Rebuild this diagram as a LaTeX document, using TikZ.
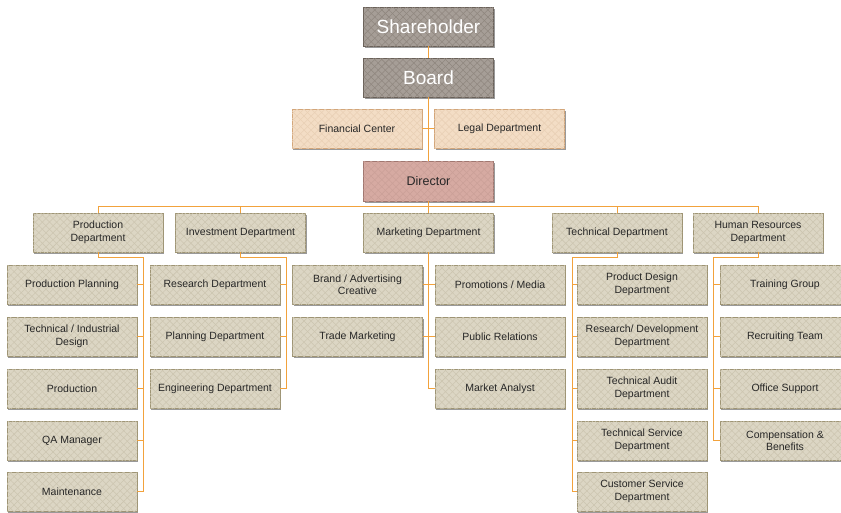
\documentclass[tikz,border=0pt]{standalone}
\usepackage{fontspec}
\setmainfont{Liberation Sans}
\usetikzlibrary{shadows,patterns.meta}

\definecolor{wire}{HTML}{F2A23C}
\definecolor{txt}{HTML}{262626}
\definecolor{deptfill}{HTML}{DCD6C4}
\definecolor{depthatch}{HTML}{CCC5B0}
\definecolor{deptline}{HTML}{9E9474}
\definecolor{topfill}{HTML}{A69E97}
\definecolor{tophatch}{HTML}{90877F}
\definecolor{topline}{HTML}{6A6159}
\definecolor{staffill}{HTML}{F3DDC5}
\definecolor{stafhatch}{HTML}{E9D0B5}
\definecolor{stafline}{HTML}{D3A67A}
\definecolor{dirfill}{HTML}{D6AAA2}
\definecolor{dirhatch}{HTML}{CBA098}
\definecolor{dirline}{HTML}{A07770}

\tikzset{
  weave/.style={
    postaction={pattern={Lines[angle=45,distance=5pt,line width=0.55pt]},pattern color=#1},
    postaction={pattern={Lines[angle=-45,distance=5pt,line width=0.55pt]},pattern color=#1}},
  basebox/.style={minimum width=130pt, minimum height=39pt, align=center,
    inner sep=2pt, line width=0.8pt, text=txt,
    font=\fontsize{10.5}{12.5}\selectfont,
    drop shadow={shadow xshift=1.2pt,shadow yshift=-1.6pt,opacity=0.4,fill=black}},
  unit/.style={basebox, draw=deptline, fill=deptfill, weave=depthatch},
  topbox/.style={basebox, draw=topline, fill=topfill, weave=tophatch,
    text=white, font=\fontsize{19}{22}\selectfont},
  staffbox/.style={basebox, draw=stafline, fill=staffill, weave=stafhatch},
  dirbox/.style={basebox, draw=dirline, fill=dirfill, weave=dirhatch,
    minimum height=40pt, font=\fontsize{12.5}{15}\selectfont},
  link/.style={draw=wire, line width=1pt}
}

\begin{document}
\begin{tikzpicture}[x=1pt,y=-1pt]
\clip (0,0) rectangle (841,512);
\fill[white] (0,0) rectangle (841,512);

% elbow points of the branch lines
\coordinate (pa) at (143,257);
\coordinate (ia) at (286,257);
\coordinate (ta) at (572,257);
\coordinate (ha) at (713,257);

% governance chain
\node[topbox]   (share) at (428.5,26.5)  {Shareholder};
\node[topbox]   (board) at (428.5,77.5)  {Board};
\node[staffbox] (fin)   at (357,128.5)   {Financial Center};
\node[staffbox] (legal) at (499.5,128.5) {Legal Department};
\node[dirbox]   (dir)   at (428.5,181)   {Director};

% departments
\node[unit] (prod) at (98,232.5)    {Production\\Department};
\node[unit] (inv)  at (240.5,232.5) {Investment Department};
\node[unit] (mkt)  at (428.5,232.5) {Marketing Department};
\node[unit] (tech) at (617,232.5)   {Technical Department};
\node[unit] (hr)   at (758,232.5)   {Human Resources\\Department};

% production units
\node[unit] (p1) at (72,284.5) {Production Planning};
\node[unit] (p2) at (72,336.5) {Technical / Industrial\\Design};
\node[unit] (p3) at (72,388.5) {Production};
\node[unit] (p4) at (72,440.5) {QA Manager};
\node[unit] (p5) at (72,491.5) {Maintenance};

% investment units
\node[unit] (i1) at (215,284.5) {Research Department};
\node[unit] (i2) at (215,336.5) {Planning Department};
\node[unit] (i3) at (215,388.5) {Engineering Department};

% marketing units
\node[unit] (m1) at (357.5,284.5) {Brand / Advertising\\Creative};
\node[unit] (m2) at (500,284.5)   {Promotions / Media};
\node[unit] (m3) at (357.5,336.5) {Trade Marketing};
\node[unit] (m4) at (500,336.5)   {Public Relations};
\node[unit] (m5) at (500,388.5)   {Market Analyst};

% technical units
\node[unit] (t1) at (642,284.5) {Product Design\\Department};
\node[unit] (t2) at (642,336.5) {Research/ Development\\Department};
\node[unit] (t3) at (642,388.5) {Technical Audit\\Department};
\node[unit] (t4) at (642,440.5) {Technical Service\\Department};
\node[unit] (t5) at (642,491.5) {Customer Service\\Department};

% human resources units
\node[unit] (h1) at (785,284.5) {Training Group};
\node[unit] (h2) at (785,336.5) {Recruiting Team};
\node[unit] (h3) at (785,388.5) {Office Support};
\node[unit] (h4) at (785,440.5) {Compensation \&\\Benefits};

% connectors
\draw[link] (share.south) -- (board.north);
\draw[link] (board.south) -- (dir.north);
\draw[link] (fin.east) -- (legal.west);
\foreach \d in {prod,inv,mkt,tech,hr}
  \draw[link] (dir.south) -- ++(0,5) -| (\d.north);
\foreach \c in {p1,p2,p3,p4,p5}
  \draw[link] (prod.south) |- (pa) |- (\c.east);
\foreach \c in {i1,i2,i3}
  \draw[link] (inv.south) |- (ia) |- (\c.east);
\foreach \c in {m1,m3}
  \draw[link] (mkt.south) |- (\c.east);
\foreach \c in {m2,m4,m5}
  \draw[link] (mkt.south) |- (\c.west);
\foreach \c in {t1,t2,t3,t4,t5}
  \draw[link] (tech.south) |- (ta) |- (\c.west);
\foreach \c in {h1,h2,h3,h4}
  \draw[link] (hr.south) |- (ha) |- (\c.west);
\end{tikzpicture}
\end{document}
